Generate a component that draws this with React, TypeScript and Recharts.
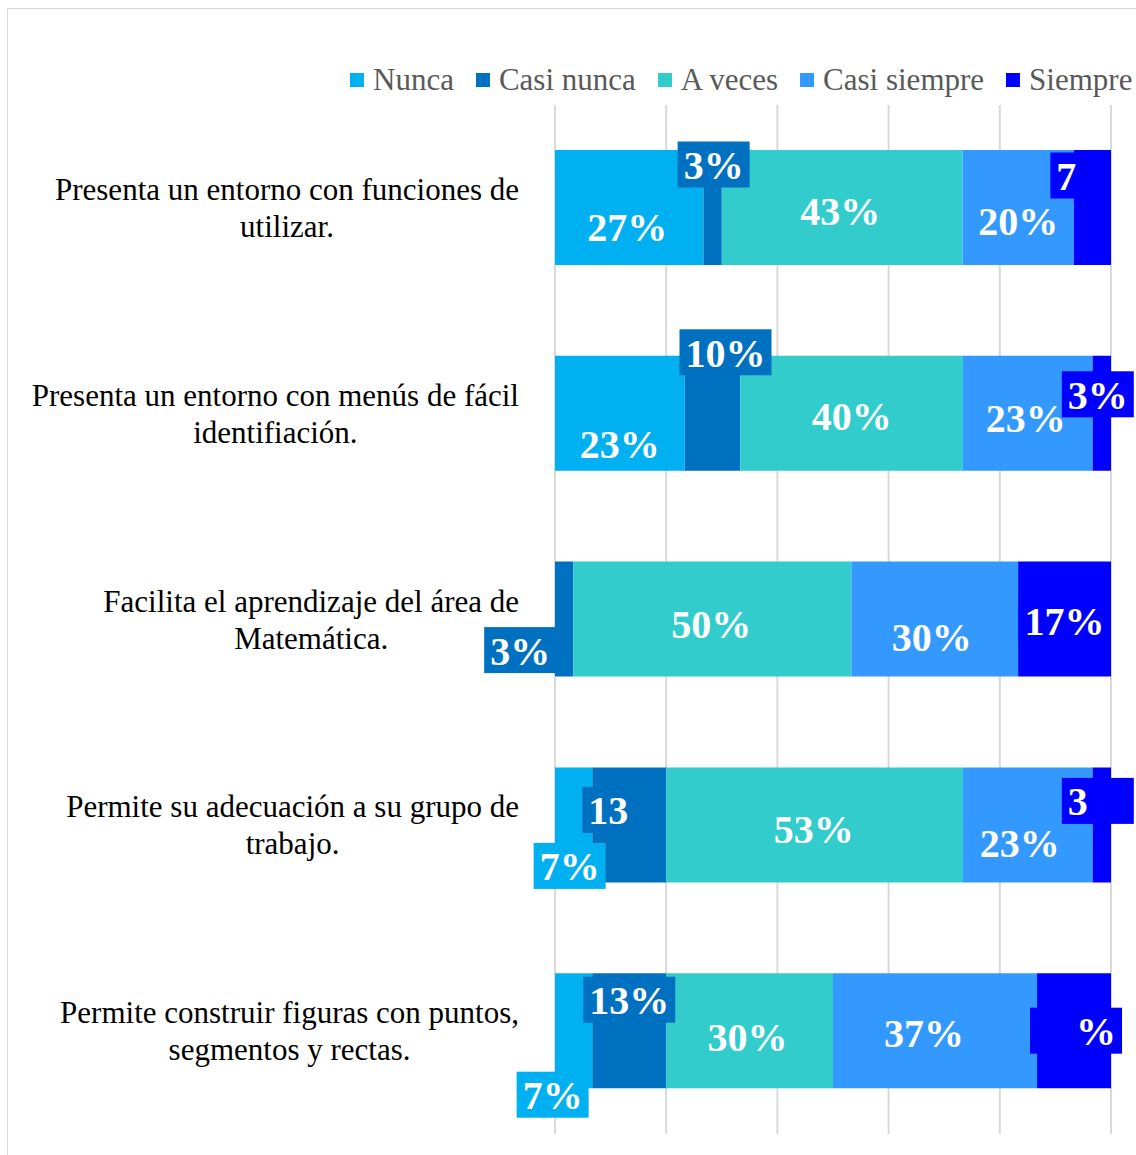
import React from "react";
import { BarChart, Bar, XAxis, YAxis, CartesianGrid, LabelList } from "recharts";

const CATEGORIES = [
  "Presenta un entorno con funciones de\nutilizar.",
  "Presenta un entorno con menús de fácil\nidentifiación.",
  "Facilita el aprendizaje del área de\nMatemática.",
  "Permite su adecuación a su grupo de\ntrabajo.",
  "Permite construir figuras con puntos,\nsegmentos y rectas.",
];
const SERIES = ["Nunca", "Casi nunca", "A veces", "Casi siempre", "Siempre"];
const NUNCA = [26.7, 23.3, 0, 6.7, 6.7];
const CASI_NUNCA = [3.3, 10, 3.3, 13.3, 13.3];
const A_VECES = [43.3, 40, 50, 53.3, 30];
const CASI_SIEMPRE = [20, 23.3, 30, 23.3, 36.7];
const SIEMPRE = [6.7, 3.3, 16.7, 3.3, 13.3];
const X_TICKS = [0, 0.2, 0.4, 0.6, 0.8, 1];

// labels that show up cut off in the original: visible text + which side of the box it sits on
const LABEL_CUT: Record<string, [string, "start" | "middle" | "end"]> = {
  "Siempre-0": ["7", "middle"],
  "Casi nunca-3": ["13", "middle"],
  "Siempre-3": ["3", "start"],
  "Siempre-4": ["%", "end"],
};

const COLORS: Record<string, string> = {
  "Nunca": "#00B0F0",
  "Casi nunca": "#0070C0",
  "A veces": "#33CCCC",
  "Casi siempre": "#3399FF",
  "Siempre": "#0000FF",
};

// manual label nudges (dx, dy) like the hand-placed labels of the original
const LABEL_NUDGE: Record<string, number[][]> = {
  "Nunca": [[-2, 19], [0, 30], [0, 0], [-4, 41], [-21, 64]],
  "Casi nunca": [[1, -43], [13, -61], [-44, 31], [-21, -15], [0, -31]],
  "A veces": [[-2, 3], [0, 2], [-1, 4], [-1, 4], [-2, 6]],
  "Casi siempre": [[0, 13], [-2, 4], [-3, 17], [-8, 18], [-11, 2]],
  "Siempre": [[-26, -32], [-4, -19], [0, 1], [-4, -24], [2, 0]],
};

const seriesValues = [NUNCA, CASI_NUNCA, A_VECES, CASI_SIEMPRE, SIEMPRE];
const data = CATEGORIES.map((name, i) => {
  const row: Record<string, string | number> = { name };
  SERIES.forEach((s, k) => (row[s] = seriesValues[k][i]));
  return row;
});

const FONT = "'Liberation Serif', 'Times New Roman', serif";

let ctx: CanvasRenderingContext2D | null = null;
function measure(text: string, font: string) {
  if (!ctx) ctx = document.createElement("canvas").getContext("2d");
  if (!ctx) return text.length * 15;
  ctx.font = font;
  return ctx.measureText(text).width;
}

function CategoryTick(props: any) {
  const { y, payload } = props;
  const lines = String(payload.value).split("\n");
  const w = measure(lines[0], `31px ${FONT}`);
  const cx = 511 - w / 2;
  return (
    <g>
      {lines.map((l, i) => (
        <text key={i} x={cx} y={y + (i - (lines.length - 1) / 2) * 37} textAnchor="middle"
          dominantBaseline="central" fontFamily={FONT} fontSize={31} fill="#000">
          {l}
        </text>
      ))}
    </g>
  );
}

function makeLabel(series: string) {
  return (props: any) => {
    const { x, y, width, height, value } = props;
    const row = value as Record<string, any>;
    if (!row || !row[series]) return null;
    const index = CATEGORIES.indexOf(row.name);
    const full = `${Math.round(row[series])}%`;
    const cut = LABEL_CUT[`${series}-${index}`];
    const shown = cut ? cut[0] : full;
    const anchor = cut ? cut[1] : "middle";
    const [dx, dy] = LABEL_NUDGE[series][index];
    const cx = x + width / 2 + dx;
    const cy = y + height / 2 + dy;
    const font = `bold 40px ${FONT}`;
    const w = measure(anchor === "middle" ? shown : full, font) + 12;
    const tx = anchor === "start" ? cx - w / 2 + 6 : anchor === "end" ? cx + w / 2 - 6 : cx;
    return (
      <g>
        <rect x={cx - w / 2} y={cy - 23} width={w} height={46} fill={COLORS[series]} />
        <text x={tx} y={cy + 1} textAnchor={anchor} dominantBaseline="central"
          fontFamily={FONT} fontWeight="bold" fontSize={40} fill="#fff">
          {shown}
        </text>
      </g>
    );
  };
}

export default function App() {
  return (
    <div style={{ position: "relative", marginLeft: 7, marginTop: 8, width: 1129, height: 1146,
      borderLeft: "1px solid #D9D9D9", borderTop: "1px solid #D9D9D9", background: "#fff" }}>
      <style>{`body{margin:0;overflow:hidden;background:#fff}`}</style>
      <div style={{ position: "absolute", left: 342, top: 53, display: "flex", alignItems: "center",
        fontFamily: FONT, fontSize: 31, color: "#595959", whiteSpace: "nowrap", lineHeight: "36px" }}>
        {SERIES.map((s) => (
          <div key={s} style={{ display: "flex", alignItems: "center", marginRight: 22 }}>
            <span style={{ width: 14, height: 14, background: COLORS[s], marginRight: 9 }} />
            <span>{s}</span>
          </div>
        ))}
      </div>
      <BarChart width={1128} height={1146} data={data} layout="vertical" stackOffset="expand"
        margin={{ top: 96, right: 25, bottom: 21, left: 0 }} barSize={115}>
        <CartesianGrid horizontal={false} stroke="#D9D9D9" strokeWidth={2} />
        <XAxis type="number" domain={[0, 1]} ticks={X_TICKS} hide />
        <YAxis type="category" dataKey="name" width={547} axisLine={false} tickLine={false}
          tick={<CategoryTick />} interval={0} />
        {SERIES.map((s) => (
          <Bar key={s} dataKey={s} stackId="a" fill={COLORS[s]} isAnimationActive={false}>
            <LabelList dataKey={(row: any) => row} content={makeLabel(s)} />
          </Bar>
        ))}
      </BarChart>
    </div>
  );
}
